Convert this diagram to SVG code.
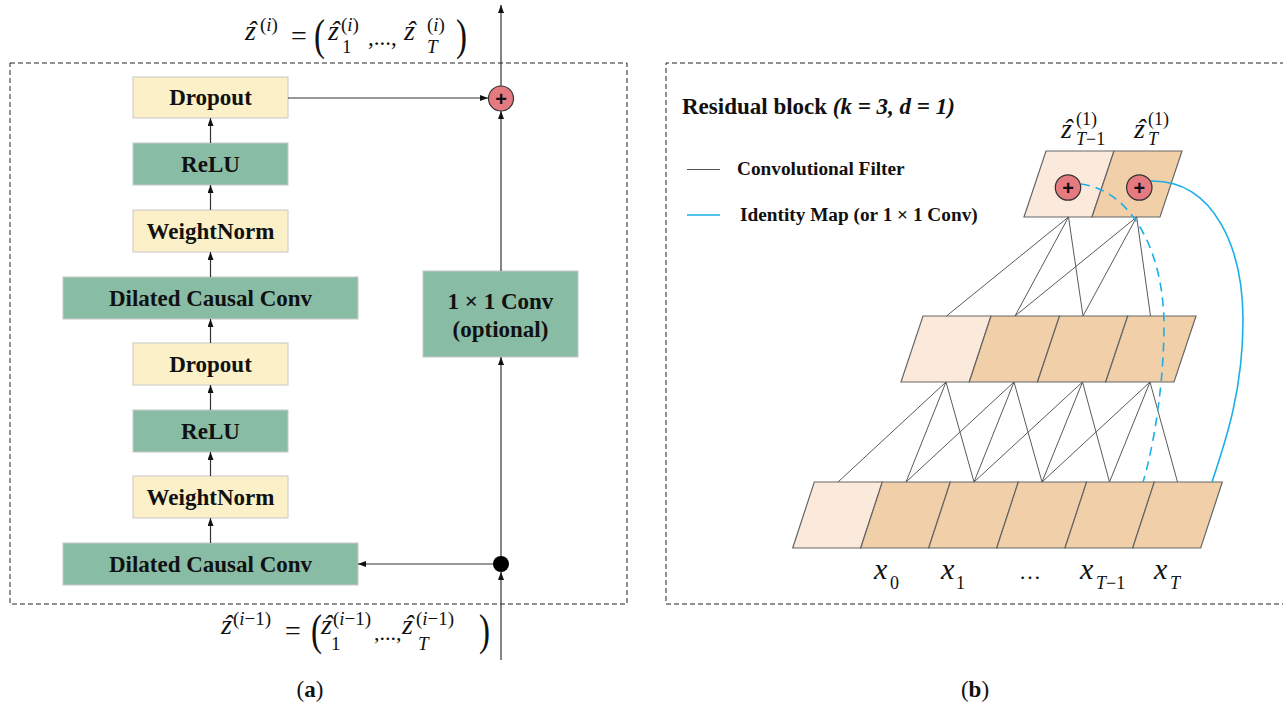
<svg xmlns="http://www.w3.org/2000/svg" width="1283" height="706" viewBox="0 0 1283 706">
<style>
.box{stroke:#c8c8c8;stroke-width:1}
.y{fill:#FBF0C8}
.g{fill:#89BCA5}
.bt{font-family:"Liberation Serif",serif;font-weight:bold;font-size:23px;fill:#111;text-anchor:middle}
.dash{fill:none;stroke:#222;stroke-width:1;stroke-dasharray:5,3}
.arr{stroke:#333;stroke-width:1.2;fill:none;marker-end:url(#ah)}
.m{font-family:"Liberation Serif",serif;font-style:italic;fill:#111}
.r{font-family:"Liberation Serif",serif;fill:#111}
.h{font-family:"Liberation Serif",serif;font-style:italic;fill:#111;text-anchor:middle}
.cl{stroke:#5a5a5a;stroke-width:1;fill:none}
.lt{fill:#FBE9DC;stroke:#666;stroke-width:1.2}
.dk{fill:#F1D0A9;stroke:#666;stroke-width:1.2}
.plus{fill:#E57B81;stroke:#333;stroke-width:1.2}
.pt{font-family:"Liberation Sans",sans-serif;font-weight:bold;font-size:20px;fill:#111;text-anchor:middle}
.lg{font-family:"Liberation Serif",serif;font-weight:bold;font-size:19.3px;fill:#111}
</style>
<defs>
<marker id="ah" viewBox="0 0 8 6" refX="8" refY="3" markerWidth="8" markerHeight="6" markerUnits="userSpaceOnUse" orient="auto">
<path d="M0,0 L8,3 L0,6 z" fill="#111"/>
</marker>
</defs>
<rect width="1283" height="706" fill="#fff"/>

<!-- panel a frame -->
<rect class="dash" x="10" y="63" width="617" height="541"/>
<!-- panel b frame -->
<path class="dash" d="M1285,63 H666 V604 H1285"/>

<!-- formulas panel a -->
<g id="formula-top">
<text class="m" x="245" y="40" font-size="28">z</text><text class="h" x="252" y="40" font-size="28">ˆ</text>
<text class="r" x="260" y="31" font-size="19">(<tspan font-style="italic">i</tspan>)</text>
<text class="r" x="291" y="45" font-size="28">=</text>
<text class="r" x="314" y="50" font-size="44" transform="translate(314 0) scale(0.75 1) translate(-314 0)">(</text>
<text class="m" x="328" y="40" font-size="28">z</text><text class="h" x="335" y="40" font-size="28">ˆ</text>
<text class="r" x="341" y="31" font-size="19">(<tspan font-style="italic">i</tspan>)</text>
<text class="r" x="342" y="53" font-size="19">1</text>
<text class="r" x="368" y="45" font-size="23">,...,</text>
<text class="m" x="404" y="40" font-size="28">z</text><text class="h" x="411" y="40" font-size="28">ˆ</text>
<text class="r" x="427" y="31" font-size="19">(<tspan font-style="italic">i</tspan>)</text>
<text class="m" x="427" y="53" font-size="19">T</text>
<text class="r" x="456" y="50" font-size="44" transform="translate(456 0) scale(0.75 1) translate(-456 0)">)</text>
</g>
<g id="formula-bottom">
<text class="m" x="221" y="634" font-size="28">z</text><text class="h" x="228" y="634" font-size="28">ˆ</text>
<text class="r" x="233" y="625" font-size="19">(<tspan font-style="italic">i</tspan>−1)</text>
<text class="r" x="285" y="640" font-size="28">=</text>
<text class="r" x="311" y="645" font-size="44" transform="translate(311 0) scale(0.75 1) translate(-311 0)">(</text>
<text class="m" x="321" y="634" font-size="28">z</text><text class="h" x="328" y="634" font-size="28">ˆ</text>
<text class="r" x="333" y="625" font-size="19">(<tspan font-style="italic">i</tspan>−1)</text>
<text class="r" x="331" y="650" font-size="19">1</text>
<text class="r" x="374" y="640" font-size="22">,...,</text>
<text class="m" x="402" y="634" font-size="28">z</text><text class="h" x="409" y="634" font-size="28">ˆ</text>
<text class="r" x="416" y="625" font-size="19">(<tspan font-style="italic">i</tspan>−1)</text>
<text class="m" x="418" y="650" font-size="19">T</text>
<text class="r" x="479" y="645" font-size="44" transform="translate(479 0) scale(0.75 1) translate(-479 0)">)</text>
</g>

<!-- panel a nodes -->
<g id="dropout2"><rect class="box y" x="133" y="77" width="155" height="41"/><text class="bt" x="210.5" y="105">Dropout</text></g>
<g id="relu2"><rect class="box g" x="133" y="143" width="155" height="42"/><text class="bt" x="210.5" y="172">ReLU</text></g>
<g id="weightnorm2"><rect class="box y" x="133" y="210" width="155" height="42"/><text class="bt" x="210.5" y="239">WeightNorm</text></g>
<g id="dcc2"><rect class="box g" x="63" y="277" width="295" height="42"/><text class="bt" x="210.5" y="306">Dilated Causal Conv</text></g>
<g id="dropout1"><rect class="box y" x="133" y="343" width="155" height="42"/><text class="bt" x="210.5" y="372">Dropout</text></g>
<g id="relu1"><rect class="box g" x="133" y="410" width="155" height="42"/><text class="bt" x="210.5" y="439">ReLU</text></g>
<g id="weightnorm1"><rect class="box y" x="133" y="476" width="155" height="42"/><text class="bt" x="210.5" y="505">WeightNorm</text></g>
<g id="dcc1"><rect class="box g" x="63" y="543" width="295" height="42"/><text class="bt" x="210.5" y="572">Dilated Causal Conv</text></g>
<g id="conv1x1"><rect class="box g" x="423" y="271" width="155" height="86"/><text class="bt" x="500.5" y="309">1 × 1 Conv</text><text class="bt" x="500.5" y="337">(optional)</text></g>

<!-- panel a connectors -->
<g id="connectors-a">
<line class="arr" x1="210.5" y1="143" x2="210.5" y2="118"/>
<line class="arr" x1="210.5" y1="210" x2="210.5" y2="185"/>
<line class="arr" x1="210.5" y1="277" x2="210.5" y2="252"/>
<line class="arr" x1="210.5" y1="343" x2="210.5" y2="319"/>
<line class="arr" x1="210.5" y1="410" x2="210.5" y2="385"/>
<line class="arr" x1="210.5" y1="476" x2="210.5" y2="452"/>
<line class="arr" x1="210.5" y1="543" x2="210.5" y2="518"/>
<line class="arr" x1="288" y1="98" x2="488" y2="98"/>
<line class="arr" x1="501" y1="660" x2="501" y2="572"/>
<line class="arr" x1="501" y1="564" x2="358" y2="564"/>
<line class="arr" x1="501" y1="564" x2="501" y2="357"/>
<line class="arr" x1="501" y1="271" x2="501" y2="111"/>
<line class="arr" x1="501" y1="86" x2="501" y2="5"/>
</g>
<g id="split-dot"><circle cx="501" cy="564" r="8" fill="#000"/></g>
<g id="sum-a"><circle class="plus" cx="501" cy="98.5" r="12.5"/><text class="pt" x="501" y="105.5">+</text></g>

<text class="r" x="310" y="697" font-size="23" text-anchor="middle">(<tspan font-weight="bold">a</tspan>)</text>
<text class="r" x="975" y="697" font-size="23" text-anchor="middle">(<tspan font-weight="bold">b</tspan>)</text>

<!-- panel b -->
<text x="682" y="114" font-family="Liberation Serif, serif" font-weight="bold" font-size="23" fill="#111">Residual block <tspan font-style="italic">(k = 3, d = 1)</tspan></text>
<line x1="687" y1="169.5" x2="720" y2="169.5" stroke="#555" stroke-width="1.2"/>
<text class="lg" x="737" y="175">Convolutional Filter</text>
<line x1="687" y1="215" x2="720" y2="215" stroke="#1AAFE8" stroke-width="1.6"/>
<text class="lg" x="740" y="221">Identity Map (or 1 × 1 Conv)</text>

<!-- bottom row -->
<g id="in-pad"><polygon class="lt" points="814.3,482 882.3,482 860.7,548 792.7,548"/></g>
<g id="in-x0"><polygon class="dk" points="882.3,482 950.3,482 928.7,548 860.7,548"/></g>
<g id="in-x1"><polygon class="dk" points="950.3,482 1018.3,482 996.7,548 928.7,548"/></g>
<g id="in-dots"><polygon class="dk" points="1018.3,482 1086.6,482 1065,548 996.7,548"/></g>
<g id="in-xT1"><polygon class="dk" points="1086.6,482 1154.3,482 1132.7,548 1065,548"/></g>
<g id="in-xT"><polygon class="dk" points="1154.3,482 1222.3,482 1200.7,548 1132.7,548"/></g>
<!-- middle row -->
<g id="h-0"><polygon class="lt" points="923,316 991,316 969.3,382 901,382"/></g>
<g id="h-1"><polygon class="dk" points="991,316 1059.5,316 1037.5,382 969.3,382"/></g>
<g id="h-2"><polygon class="dk" points="1059.5,316 1127.7,316 1105.7,382 1037.5,382"/></g>
<g id="h-3"><polygon class="dk" points="1127.7,316 1196,316 1174,382 1105.7,382"/></g>
<!-- top row -->
<g id="out-T1"><polygon class="lt" points="1046,151 1114,151 1092,217 1024,217"/></g>
<g id="out-T"><polygon class="dk" points="1114,151 1182,151 1160,217 1092,217"/></g>

<g id="connectors-b">
<path class="cl" d="M1068.5,217 L946.5,316 M1068.5,217 L1015,316 M1068.5,217 L1083,316 M1136.7,217 L1015,316 M1136.7,217 L1083,316 M1136.7,217 L1150.5,316"/>
<path class="cl" d="M946,382 L838,482 M946,382 L906,482 M946,382 L974,482 M1014,382 L906,482 M1014,382 L974,482 M1014,382 L1042,482 M1082.5,382 L974,482 M1082.5,382 L1042,482 M1082.5,382 L1109.5,482 M1150,382 L1042,482 M1150,382 L1109.5,482 M1150,382 L1177.5,482"/>
<path d="M1081,184 C1130,190 1165,250 1164,330 C1163,400 1150,460 1143,482" fill="none" stroke="#1AAFE8" stroke-width="1.6" stroke-dasharray="9,6"/>
<path d="M1151,181 C1215,180 1243,250 1243,320 C1243,390 1226,440 1212,482" fill="none" stroke="#1AAFE8" stroke-width="1.6"/>
</g>

<g id="sum-T1"><circle class="plus" cx="1068" cy="187.5" r="12.7"/><text class="pt" x="1068" y="194.5">+</text></g>
<g id="sum-T"><circle class="plus" cx="1139.3" cy="187.5" r="12.7"/><text class="pt" x="1139.3" y="194.5">+</text></g>

<g id="labels-top">
<text class="m" x="1061" y="138" font-size="28">z</text><text class="h" x="1068" y="138" font-size="28">ˆ</text>
<text class="r" x="1076" y="125" font-size="18">(1)</text>
<text class="m" x="1076" y="145" font-size="18">T<tspan font-style="normal">−1</tspan></text>
<text class="m" x="1134" y="138" font-size="28">z</text><text class="h" x="1141" y="138" font-size="28">ˆ</text>
<text class="r" x="1148" y="125" font-size="18">(1)</text>
<text class="m" x="1148" y="145" font-size="18">T</text>
</g>
<g id="labels-x">
<text class="m" x="874" y="579" font-size="30">x</text><text class="r" x="890" y="589" font-size="18">0</text>
<text class="m" x="941" y="579" font-size="30">x</text><text class="r" x="956" y="589" font-size="18">1</text>
<text class="r" x="1019" y="579" font-size="22">…</text>
<text class="m" x="1080" y="579" font-size="30">x</text><text class="m" x="1096" y="589" font-size="18">T<tspan font-style="normal">−1</tspan></text>
<text class="m" x="1154" y="579" font-size="30">x</text><text class="m" x="1170" y="589" font-size="18">T</text>
</g>
</svg>
